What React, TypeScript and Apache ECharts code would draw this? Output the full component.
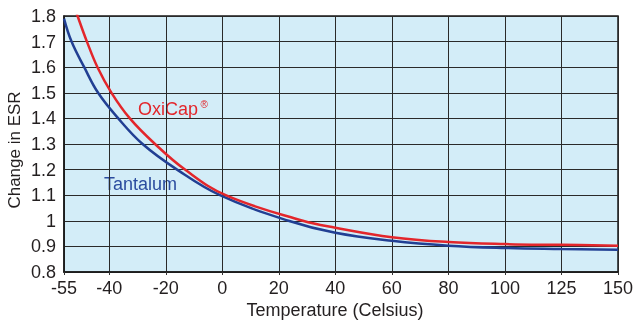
import React, { useEffect, useRef } from "react";
import * as echarts from "echarts";

// Tick labels of the temperature axis and their relative positions along it
const TEMP_TICKS = [-55, -40, -20, 0, 20, 40, 60, 80, 100, 125, 150];
const TICK_POS = [0, 0.8, 1.8, 2.8, 3.8, 4.8, 5.8, 6.8, 7.8, 8.8, 9.8];

// Tantalum curve (temperature, change in ESR)
const TANT_T = [-55, -52.5, -48.3, -43.7, -36.8, -28.2, -16, -0.8, 23.4, 40, 60, 80, 100, 125, 150];
const TANT_V = [1.79, 1.7, 1.6, 1.5, 1.4, 1.3, 1.2, 1.1, 1.0, 0.953, 0.922, 0.903, 0.894, 0.89, 0.887];

// OxiCap curve (temperature, change in ESR)
const OXI_T = [-55, -50.5, -47.4, -43.9, -39.2, -32.7, -23.8, -13.2, 1.2, 28.5, 40, 60, 80, 100, 125, 150];
const OXI_V = [1.95, 1.8, 1.7, 1.6, 1.5, 1.4, 1.3, 1.2, 1.1, 1.0, 0.973, 0.936, 0.917, 0.909, 0.906, 0.903];

function toAxis(t: number): number {
  for (let i = 0; i < TEMP_TICKS.length - 1; i++) {
    const a = TEMP_TICKS[i], b = TEMP_TICKS[i + 1];
    if (t <= b || i === TEMP_TICKS.length - 2) {
      return TICK_POS[i] + ((t - a) / (b - a)) * (TICK_POS[i + 1] - TICK_POS[i]);
    }
  }
  return 0;
}

function labelFor(u: number): string {
  let best = 0;
  for (let i = 0; i < TICK_POS.length; i++) {
    if (Math.abs(TICK_POS[i] - u) < Math.abs(TICK_POS[best] - u)) best = i;
  }
  return String(TEMP_TICKS[best]);
}

const FONT = "'Liberation Sans', Arial, Helvetica, sans-serif";
const TEXT = "#231f20";

export default function App() {
  const ref = useRef<HTMLDivElement>(null);
  useEffect(() => {
    if (!ref.current) return;
    const chart = echarts.init(ref.current, null, { renderer: "svg" });
    chart.setOption({
      animation: false,
      textStyle: { fontFamily: FONT },
      grid: {
        left: 64,
        right: 21,
        top: 16,
        bottom: 51,
        show: true,
        backgroundColor: "#d3edf8",
        borderColor: "#1a1a1a",
        borderWidth: 1.5,
      },
      xAxis: {
        type: "value",
        min: 0,
        max: TICK_POS[TICK_POS.length - 1],
        axisLine: { show: true, lineStyle: { color: "#1a1a1a", width: 1.5 } },
        axisTick: { show: true, customValues: TICK_POS, length: 3, lineStyle: { color: "#333" } },
        axisLabel: {
          customValues: TICK_POS,
          formatter: (v: number) => labelFor(v),
          color: TEXT,
          fontSize: 18,
          fontFamily: FONT,
          margin: 7,
        },
        splitLine: { show: true, lineStyle: { color: "#2a2a2a", width: 1 } },
      },
      yAxis: {
        type: "value",
        min: 0.8,
        max: 1.8,
        interval: 0.1,
        axisLine: { show: true, lineStyle: { color: "#1a1a1a", width: 1.5 } },
        axisTick: { show: false },
        axisLabel: {
          formatter: (v: number) => String(Number(v.toFixed(1))),
          color: TEXT,
          fontSize: 18,
          fontFamily: FONT,
          margin: 8,
          padding: [3, 0, 0, 0],
        },
        splitLine: { show: true, lineStyle: { color: "#2a2a2a", width: 1 } },
      },
      series: [
        {
          name: "Tantalum",
          type: "line",
          data: TANT_T.map((t, i) => [toAxis(t), TANT_V[i]]),
          showSymbol: false,
          smooth: 0.4,
          clip: true,
          lineStyle: { color: "#213f93", width: 2.5 },
          z: 3,
        },
        {
          name: "OxiCap",
          type: "line",
          data: OXI_T.map((t, i) => [toAxis(t), OXI_V[i]]),
          showSymbol: false,
          smooth: 0.4,
          clip: true,
          lineStyle: { color: "#e3262b", width: 2.5 },
          z: 4,
        },
      ],
      graphic: [
        {
          type: "text",
          x: 138,
          y: 108.5,
          style: { text: "OxiCap", fill: "#e3262b", font: `18px ${FONT}`, verticalAlign: "middle" },
        },
        {
          type: "text",
          x: 200.5,
          y: 104,
          style: { text: "®", fill: "#e3262b", font: `10px ${FONT}`, verticalAlign: "middle" },
        },
        {
          type: "text",
          x: 104,
          y: 184,
          style: { text: "Tantalum", fill: "#2b4c9f", font: `18px ${FONT}`, verticalAlign: "middle" },
        },
        {
          type: "text",
          x: 335,
          y: 310,
          style: {
            text: "Temperature (Celsius)",
            fill: TEXT,
            font: `18px ${FONT}`,
            align: "center",
            verticalAlign: "middle",
          },
        },
        {
          type: "text",
          x: 14,
          y: 150,
          rotation: Math.PI / 2,
          style: {
            text: "Change in ESR",
            fill: TEXT,
            font: `17px ${FONT}`,
            align: "center",
            verticalAlign: "middle",
          },
        },
      ],
    });
    return () => chart.dispose();
  }, []);
  return (
    <div
      ref={ref}
      style={{ position: "fixed", left: 0, top: 0, width: 639, height: 323 }}
    />
  );
}
